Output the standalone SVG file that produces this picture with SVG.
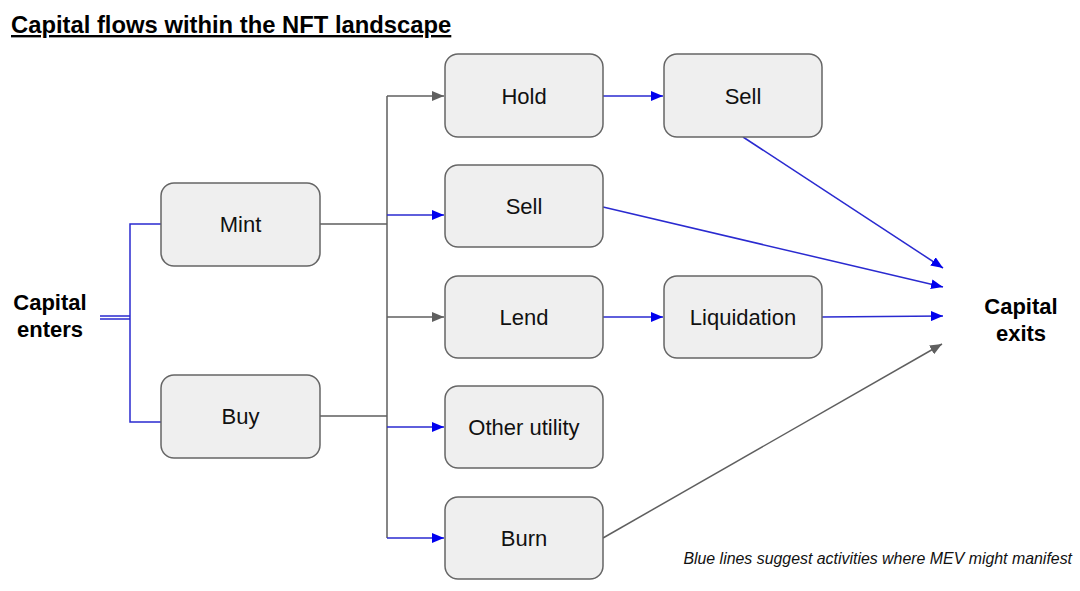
<svg xmlns="http://www.w3.org/2000/svg" width="1080" height="591" viewBox="0 0 1080 591">
<style>
.box{fill:#efefef;stroke:#666;stroke-width:1.5}
.lbl{font-family:"Liberation Sans",Arial,sans-serif;font-size:22px;fill:#111;text-anchor:middle}
.big{font-family:"Liberation Sans",Arial,sans-serif;font-size:22px;font-weight:bold;fill:#000;text-anchor:middle}
.b{stroke:#2a2ad0;stroke-width:1.5;fill:none}
.g{stroke:#5f5f5f;stroke-width:1.5;fill:none}
</style>
<defs>
<marker id="ab" markerWidth="12" markerHeight="10" refX="12" refY="5" orient="auto" markerUnits="userSpaceOnUse"><path d="M0,0 L12,5 L0,10 z" fill="#0000ee"/></marker>
<marker id="ag" markerWidth="12" markerHeight="10" refX="12" refY="5" orient="auto" markerUnits="userSpaceOnUse"><path d="M0,0 L12,5 L0,10 z" fill="#5f5f5f"/></marker>
</defs>
<rect width="1080" height="591" fill="#fff"/>
<text x="11" y="33" font-family="Liberation Sans,Arial,sans-serif" font-size="23.8" font-weight="bold" text-decoration="underline" fill="#000">Capital flows within the NFT landscape</text>
<g id="connectors">
<path class="b" d="M100,316 H130 M100,319 H130"/>
<path class="b" d="M161,224 H130 V422 H161"/>
<path class="g" d="M320,224 H387 M320,416 H387 M387,96 V538"/>
<path class="g" d="M387,96 H444" marker-end="url(#ag)"/>
<path class="b" d="M387,215 H444" marker-end="url(#ab)"/>
<path class="g" d="M387,317 H444" marker-end="url(#ag)"/>
<path class="b" d="M387,427 H444" marker-end="url(#ab)"/>
<path class="b" d="M387,538 H444" marker-end="url(#ab)"/>
<path class="b" d="M603,96 H663" marker-end="url(#ab)"/>
<path class="b" d="M603,317 H663" marker-end="url(#ab)"/>
<path class="b" d="M743,137 L943,268" marker-end="url(#ab)"/>
<path class="b" d="M603,207 L943,287" marker-end="url(#ab)"/>
<path class="b" d="M822,317 L943,316" marker-end="url(#ab)"/>
<path class="g" d="M603,538 L942,344" marker-end="url(#ag)"/>
</g>
<g id="capital-enters"><text class="big" x="50" y="310">Capital</text><text class="big" x="50" y="337">enters</text></g>
<g id="mint"><rect class="box" x="161" y="183" width="159" height="83" rx="13"/><text class="lbl" x="240.5" y="232">Mint</text></g>
<g id="buy"><rect class="box" x="161" y="375" width="159" height="83" rx="13"/><text class="lbl" x="240.5" y="424">Buy</text></g>
<g id="hold"><rect class="box" x="445" y="54" width="158" height="83" rx="13"/><text class="lbl" x="524" y="104">Hold</text></g>
<g id="sell1"><rect class="box" x="445" y="165" width="158" height="82" rx="13"/><text class="lbl" x="524" y="214">Sell</text></g>
<g id="lend"><rect class="box" x="445" y="276" width="158" height="82" rx="13"/><text class="lbl" x="524" y="325">Lend</text></g>
<g id="other"><rect class="box" x="445" y="386" width="158" height="82" rx="13"/><text class="lbl" x="524" y="435">Other utility</text></g>
<g id="burn"><rect class="box" x="445" y="497" width="158" height="82" rx="13"/><text class="lbl" x="524" y="546">Burn</text></g>
<g id="sell2"><rect class="box" x="664" y="54" width="158" height="83" rx="13"/><text class="lbl" x="743" y="104">Sell</text></g>
<g id="liquidation"><rect class="box" x="664" y="276" width="158" height="82" rx="13"/><text class="lbl" x="743" y="325">Liquidation</text></g>
<g id="capital-exits"><text class="big" x="1021" y="314">Capital</text><text class="big" x="1021" y="341">exits</text></g>
<text x="1072" y="564" text-anchor="end" font-family="Liberation Sans,Arial,sans-serif" font-size="15.9" font-style="italic" fill="#111">Blue lines suggest activities where MEV might manifest</text>
</svg>
